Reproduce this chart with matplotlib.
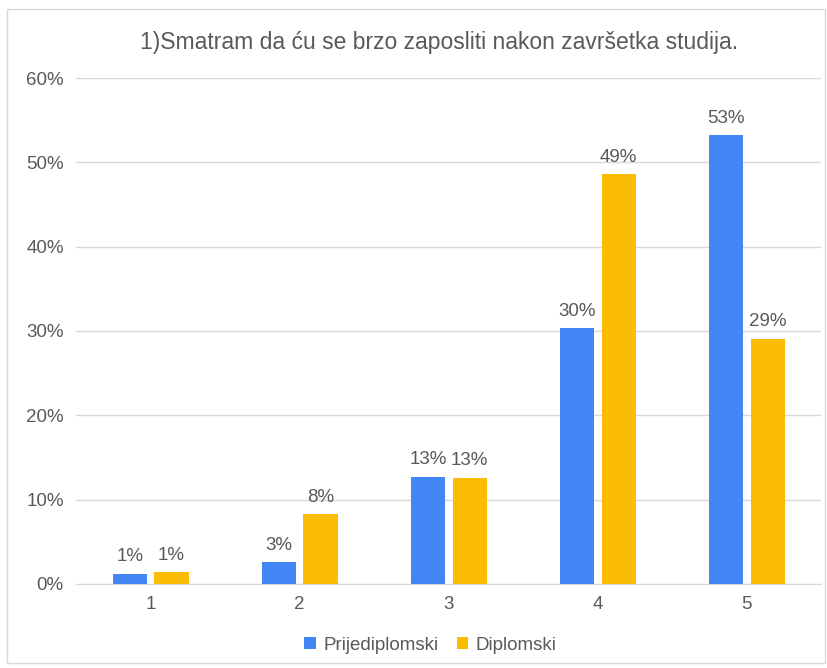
import numpy as np
import matplotlib.pyplot as plt
from matplotlib.patches import Rectangle

plt.rcParams['font.family'] = ['Liberation Sans', 'DejaVu Sans']

categories = ['1', '2', '3', '4', '5']
prijediplomski = [1.2, 2.6, 12.7, 30.3, 53.2]
diplomski = [1.4, 8.3, 12.6, 48.6, 29.1]

text_color = '#595959'
blue = '#4285F4'
orange = '#FBBC04'

fig = plt.figure(figsize=(8.28, 6.68), dpi=100)
ax = fig.add_axes([0.092, 0.126, 0.9, 0.757])

x = np.arange(len(categories))
w = 0.23
b1 = ax.bar(x - 0.14, prijediplomski, w, color=blue, label='Prijediplomski', zorder=3)
b2 = ax.bar(x + 0.14, diplomski, w, color=orange, label='Diplomski', zorder=3)

for bars in (b1, b2):
    for r in bars:
        v = r.get_height()
        ax.annotate(f'{v:.0f}%', (r.get_x() + r.get_width() / 2, v),
                    xytext=(0, 6), textcoords='offset points',
                    ha='center', va='bottom', fontsize=13.5, color=text_color)

ax.set_xlim(-0.5, 4.5)
ax.set_ylim(0, 60)
ax.set_xticks(x)
ax.set_xticklabels(categories)
ax.set_yticks(range(0, 61, 10))
ax.set_yticklabels([f'{t}%' for t in range(0, 61, 10)])
ax.tick_params(axis='both', length=0, labelsize=13.5, colors=text_color)
ax.tick_params(axis='y', pad=9)
ax.tick_params(axis='x', pad=9)
ax.grid(axis='y', color='#d9d9d9', linewidth=1, zorder=0)
for s in ['top', 'right', 'left']:
    ax.spines[s].set_visible(False)
ax.spines['bottom'].set_color('#d9d9d9')

fig.text(0.53, 0.937, '1)Smatram da ću se brzo zaposliti nakon završetka studija.',
         ha='center', va='center', fontsize=16.5, color=text_color)

fig.legend(loc='center', bbox_to_anchor=(0.52, 0.034), ncol=2, frameon=False,
           fontsize=13.5, handlelength=0.6, handleheight=0.6, handletextpad=0.4,
           columnspacing=1.0, labelcolor=text_color)

fig.patches.append(Rectangle((0.008, 0.008), 0.988, 0.978, transform=fig.transFigure,
                             fill=False, edgecolor='#d9d9d9', linewidth=1))

fig.savefig('out.png', dpi=100)
